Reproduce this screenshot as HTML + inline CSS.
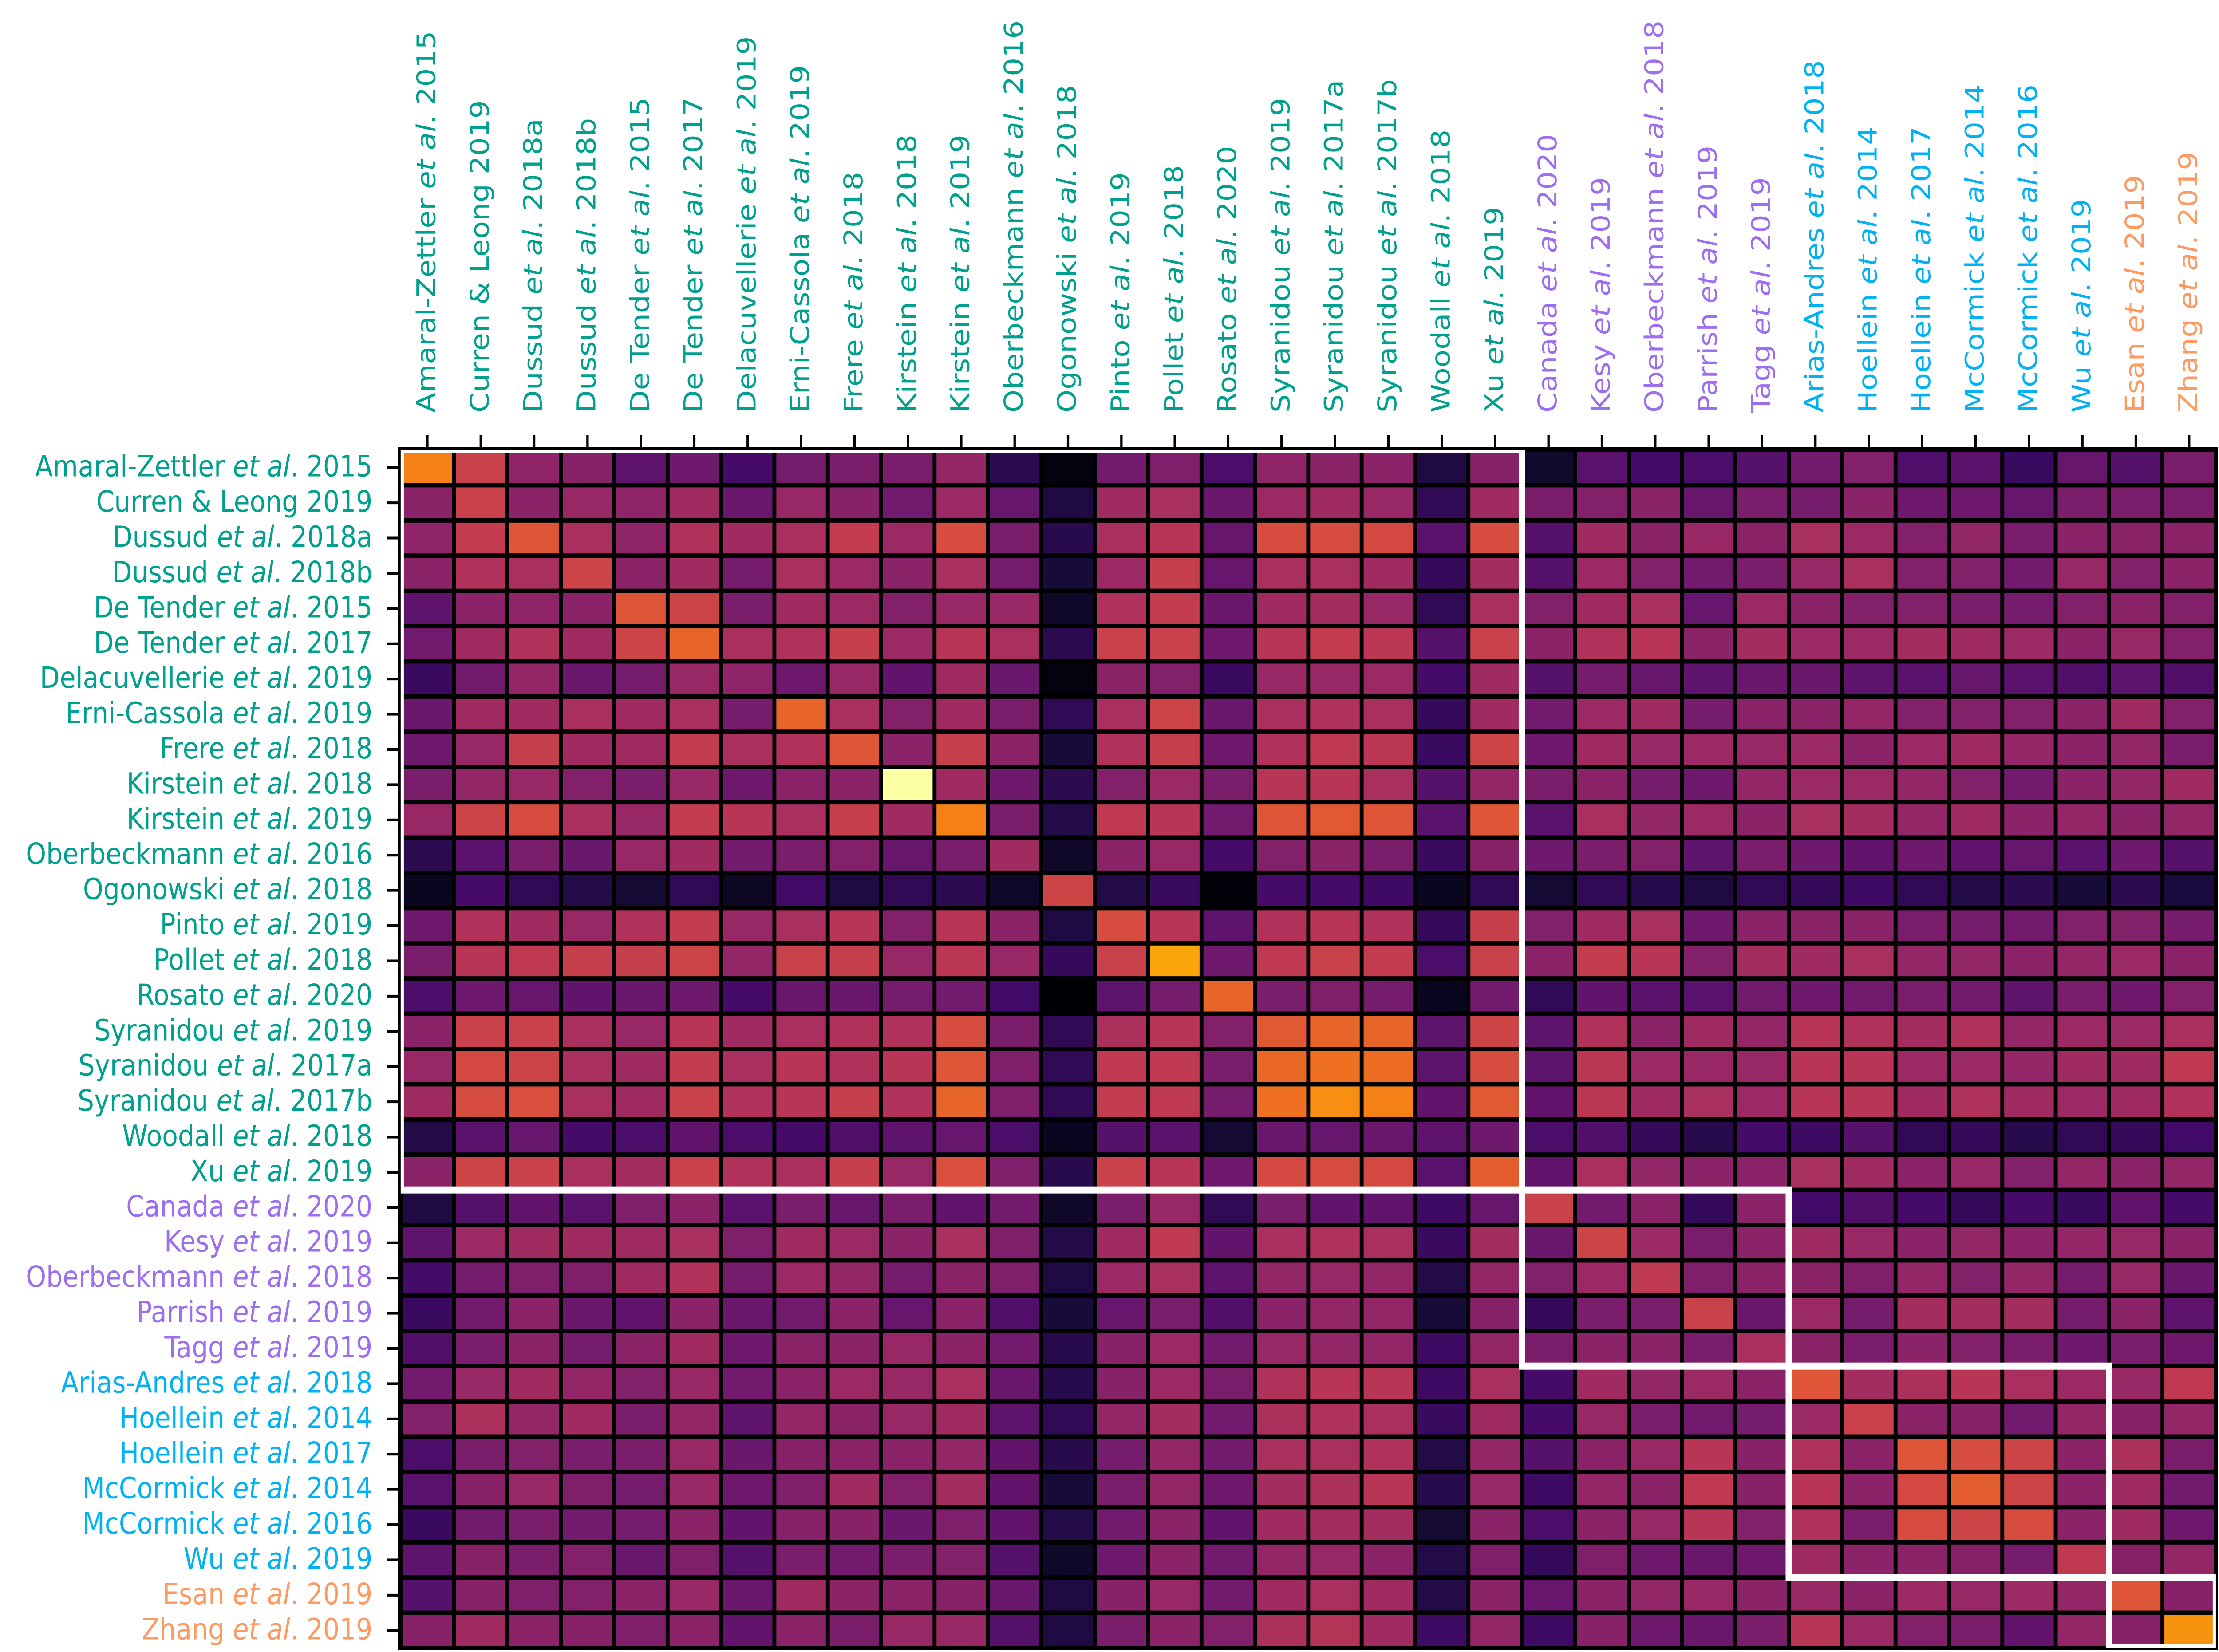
<!DOCTYPE html>
<html><head><meta charset="utf-8"><style>
html,body{margin:0;padding:0;background:#fff;width:100vw;height:100vh;overflow:hidden;}
svg{display:block;position:absolute;left:0;top:0;width:100vw;height:100vh;overflow:hidden;}
text{font-family:"DejaVu Sans","Liberation Sans",sans-serif;font-size:66px;}
</style></head><body>
<svg id="chart" xmlns="http://www.w3.org/2000/svg" viewBox="0 0 5660 3723" preserveAspectRatio="none">
<defs><clipPath id="axclip"><rect x="1022" y="1014" width="4630" height="2700"/></clipPath></defs>
<rect width="5660" height="3723" fill="#fff"/>
<g id="frame"></g>
<g id="cells"></g>
<g id="boxes"></g>
<g id="ticks"></g>
<g id="rowlabels"></g>
<g id="collabels"></g>
</svg>
<script>
const authors = ["Amaral-Zettler","Curren & Leong","Dussud","Dussud","De Tender","De Tender","Delacuvellerie","Erni-Cassola","Frere","Kirstein","Kirstein","Oberbeckmann","Ogonowski","Pinto","Pollet","Rosato","Syranidou","Syranidou","Syranidou","Woodall","Xu","Canada","Kesy","Oberbeckmann","Parrish","Tagg","Arias-Andres","Hoellein","Hoellein","McCormick","McCormick","Wu","Esan","Zhang"];
const years = ["2015","2019"," 2018a","2018b","2015","2017","2019","2019","2018","2018","2019","2016","2018","2019","2018","2020","2019","2017a","2017b","2018","2019","2020","2019","2018","2019","2019","2018","2014","2017","2014","2016","2019","2019","2019"];
const etAl = [1,0,1,1,1,1,1,1,1,1,1,1,1,1,1,1,1,1,1,1,1,1,1,1,1,1,1,1,1,1,1,1,1,1];
const groups = [0,0,0,0,0,0,0,0,0,0,0,0,0,0,0,0,0,0,0,0,0,1,1,1,1,1,2,2,2,2,2,2,3,3];
const groupColors = ["#00a08e","#9d6ef0","#00b2f4","#fc9a62"];
const groupBounds = [[0,21],[21,26],[26,32],[32,34]];
const values = [
[0.72,0.54,0.39,0.37,0.27,0.31,0.21,0.33,0.34,0.34,0.40,0.15,0.02,0.32,0.35,0.22,0.39,0.38,0.38,0.12,0.37,0.08,0.26,0.21,0.22,0.25,0.32,0.36,0.23,0.26,0.18,0.29,0.25,0.34],
[0.38,0.54,0.38,0.41,0.39,0.43,0.30,0.41,0.37,0.32,0.42,0.29,0.12,0.43,0.45,0.30,0.42,0.43,0.41,0.16,0.43,0.34,0.36,0.38,0.29,0.34,0.33,0.38,0.31,0.31,0.29,0.34,0.34,0.34],
[0.39,0.52,0.61,0.45,0.39,0.47,0.43,0.45,0.52,0.42,0.58,0.34,0.14,0.45,0.49,0.29,0.58,0.58,0.57,0.26,0.58,0.25,0.43,0.38,0.41,0.38,0.45,0.42,0.36,0.40,0.34,0.38,0.38,0.38],
[0.38,0.47,0.45,0.55,0.38,0.43,0.33,0.45,0.42,0.38,0.45,0.33,0.10,0.42,0.53,0.29,0.45,0.45,0.43,0.17,0.44,0.25,0.42,0.36,0.32,0.34,0.41,0.45,0.36,0.36,0.32,0.41,0.36,0.38],
[0.27,0.38,0.39,0.38,0.61,0.55,0.34,0.43,0.42,0.36,0.41,0.41,0.07,0.47,0.52,0.30,0.43,0.44,0.41,0.16,0.45,0.36,0.43,0.45,0.29,0.42,0.38,0.36,0.36,0.34,0.33,0.36,0.38,0.36],
[0.32,0.43,0.47,0.43,0.55,0.65,0.45,0.47,0.53,0.42,0.49,0.45,0.15,0.54,0.54,0.31,0.49,0.52,0.50,0.25,0.54,0.38,0.47,0.49,0.38,0.44,0.42,0.42,0.44,0.43,0.42,0.38,0.41,0.36],
[0.18,0.32,0.40,0.30,0.33,0.41,0.39,0.31,0.41,0.28,0.43,0.30,0.02,0.38,0.36,0.18,0.41,0.41,0.42,0.21,0.43,0.25,0.33,0.29,0.27,0.30,0.30,0.27,0.26,0.29,0.26,0.24,0.27,0.24],
[0.30,0.43,0.43,0.45,0.43,0.45,0.33,0.65,0.45,0.36,0.43,0.34,0.16,0.45,0.55,0.30,0.45,0.47,0.45,0.17,0.43,0.32,0.42,0.43,0.33,0.38,0.38,0.40,0.36,0.36,0.36,0.38,0.43,0.36],
[0.31,0.41,0.53,0.43,0.43,0.52,0.45,0.47,0.61,0.38,0.53,0.38,0.10,0.47,0.53,0.31,0.47,0.51,0.50,0.18,0.55,0.31,0.43,0.41,0.42,0.41,0.42,0.38,0.42,0.43,0.40,0.38,0.40,0.34],
[0.34,0.40,0.41,0.36,0.34,0.41,0.31,0.38,0.38,1.00,0.43,0.31,0.15,0.36,0.42,0.34,0.49,0.49,0.45,0.25,0.40,0.34,0.38,0.33,0.31,0.40,0.42,0.42,0.40,0.36,0.32,0.38,0.40,0.43],
[0.41,0.55,0.58,0.45,0.41,0.52,0.49,0.45,0.53,0.43,0.72,0.34,0.13,0.51,0.49,0.32,0.61,0.62,0.61,0.26,0.61,0.26,0.45,0.40,0.42,0.38,0.45,0.44,0.40,0.43,0.38,0.40,0.38,0.40],
[0.15,0.26,0.34,0.30,0.41,0.43,0.32,0.34,0.36,0.29,0.34,0.43,0.07,0.38,0.41,0.21,0.36,0.38,0.34,0.18,0.37,0.31,0.34,0.36,0.27,0.34,0.31,0.28,0.31,0.28,0.29,0.26,0.31,0.25],
[0.05,0.21,0.16,0.13,0.09,0.16,0.06,0.20,0.12,0.16,0.15,0.07,0.55,0.13,0.18,0.01,0.21,0.21,0.19,0.05,0.16,0.09,0.16,0.14,0.12,0.16,0.17,0.19,0.16,0.13,0.15,0.10,0.15,0.11],
[0.31,0.47,0.43,0.41,0.47,0.52,0.41,0.45,0.49,0.36,0.49,0.38,0.12,0.58,0.49,0.27,0.47,0.49,0.47,0.17,0.53,0.36,0.43,0.45,0.31,0.38,0.38,0.38,0.34,0.33,0.32,0.36,0.36,0.33],
[0.34,0.49,0.51,0.53,0.53,0.55,0.40,0.54,0.53,0.41,0.50,0.41,0.17,0.54,0.80,0.31,0.51,0.54,0.52,0.22,0.54,0.38,0.52,0.49,0.36,0.44,0.43,0.45,0.40,0.40,0.38,0.40,0.42,0.38],
[0.22,0.31,0.29,0.28,0.30,0.31,0.21,0.30,0.30,0.33,0.32,0.20,0.00,0.27,0.33,0.65,0.34,0.35,0.33,0.05,0.32,0.16,0.28,0.26,0.26,0.32,0.31,0.32,0.34,0.32,0.27,0.34,0.31,0.36],
[0.38,0.54,0.54,0.45,0.41,0.49,0.43,0.45,0.47,0.47,0.58,0.34,0.16,0.46,0.49,0.36,0.62,0.65,0.65,0.27,0.55,0.27,0.47,0.38,0.43,0.40,0.49,0.47,0.44,0.47,0.40,0.42,0.42,0.45],
[0.41,0.57,0.55,0.45,0.43,0.52,0.45,0.49,0.47,0.49,0.61,0.35,0.16,0.51,0.51,0.34,0.66,0.68,0.67,0.27,0.58,0.27,0.50,0.42,0.41,0.41,0.49,0.49,0.42,0.42,0.40,0.43,0.43,0.51],
[0.43,0.58,0.59,0.45,0.43,0.54,0.47,0.49,0.53,0.47,0.65,0.35,0.16,0.52,0.51,0.33,0.68,0.75,0.72,0.28,0.62,0.28,0.50,0.43,0.45,0.42,0.49,0.49,0.43,0.47,0.43,0.42,0.43,0.47],
[0.13,0.26,0.29,0.21,0.22,0.28,0.22,0.21,0.24,0.27,0.29,0.22,0.05,0.25,0.26,0.09,0.30,0.29,0.30,0.27,0.31,0.22,0.24,0.17,0.14,0.21,0.19,0.25,0.16,0.17,0.14,0.16,0.17,0.20],
[0.38,0.55,0.54,0.45,0.44,0.54,0.47,0.45,0.53,0.41,0.59,0.35,0.14,0.54,0.49,0.31,0.57,0.58,0.57,0.26,0.63,0.28,0.45,0.40,0.38,0.38,0.45,0.43,0.38,0.41,0.36,0.40,0.38,0.40],
[0.12,0.25,0.28,0.26,0.35,0.38,0.26,0.34,0.29,0.34,0.28,0.32,0.07,0.34,0.41,0.16,0.34,0.28,0.28,0.19,0.29,0.54,0.32,0.38,0.17,0.38,0.20,0.24,0.21,0.17,0.21,0.18,0.28,0.21],
[0.27,0.42,0.43,0.43,0.43,0.45,0.35,0.43,0.42,0.38,0.45,0.35,0.13,0.43,0.51,0.28,0.45,0.47,0.45,0.18,0.44,0.30,0.55,0.42,0.34,0.38,0.43,0.41,0.38,0.40,0.38,0.40,0.41,0.38],
[0.21,0.33,0.35,0.35,0.43,0.47,0.33,0.42,0.40,0.33,0.38,0.35,0.12,0.42,0.45,0.27,0.40,0.41,0.40,0.13,0.40,0.36,0.42,0.51,0.35,0.38,0.38,0.35,0.40,0.36,0.40,0.33,0.41,0.30],
[0.18,0.32,0.38,0.30,0.28,0.38,0.30,0.32,0.38,0.29,0.38,0.24,0.10,0.29,0.34,0.24,0.38,0.40,0.40,0.10,0.37,0.17,0.34,0.34,0.54,0.30,0.42,0.33,0.44,0.44,0.44,0.33,0.38,0.27],
[0.24,0.34,0.38,0.33,0.38,0.43,0.31,0.38,0.38,0.41,0.38,0.32,0.14,0.37,0.42,0.32,0.41,0.40,0.40,0.19,0.40,0.34,0.38,0.38,0.34,0.45,0.38,0.34,0.38,0.36,0.34,0.31,0.34,0.31],
[0.32,0.41,0.43,0.40,0.36,0.41,0.32,0.38,0.42,0.41,0.45,0.30,0.14,0.37,0.42,0.34,0.47,0.49,0.49,0.19,0.45,0.21,0.43,0.40,0.42,0.38,0.61,0.44,0.46,0.49,0.45,0.42,0.41,0.51],
[0.36,0.46,0.40,0.43,0.34,0.40,0.27,0.40,0.38,0.41,0.43,0.27,0.16,0.40,0.44,0.32,0.46,0.47,0.45,0.18,0.43,0.21,0.41,0.34,0.32,0.33,0.42,0.54,0.38,0.37,0.32,0.40,0.37,0.40],
[0.22,0.34,0.36,0.34,0.34,0.41,0.30,0.37,0.38,0.38,0.40,0.28,0.14,0.33,0.40,0.32,0.45,0.45,0.47,0.13,0.40,0.25,0.38,0.41,0.49,0.37,0.47,0.38,0.61,0.58,0.55,0.38,0.46,0.34],
[0.26,0.37,0.41,0.35,0.33,0.41,0.31,0.35,0.43,0.36,0.44,0.28,0.10,0.34,0.40,0.31,0.44,0.46,0.49,0.14,0.41,0.19,0.40,0.38,0.51,0.37,0.49,0.38,0.57,0.63,0.55,0.38,0.43,0.32],
[0.18,0.32,0.34,0.32,0.33,0.38,0.28,0.37,0.37,0.30,0.35,0.28,0.13,0.32,0.38,0.28,0.43,0.44,0.44,0.09,0.38,0.22,0.38,0.41,0.49,0.36,0.47,0.34,0.58,0.55,0.58,0.38,0.43,0.31],
[0.27,0.37,0.34,0.36,0.30,0.35,0.25,0.34,0.32,0.34,0.36,0.25,0.07,0.31,0.38,0.32,0.40,0.41,0.38,0.13,0.35,0.17,0.35,0.31,0.30,0.31,0.43,0.38,0.38,0.37,0.33,0.51,0.37,0.40],
[0.25,0.37,0.35,0.36,0.38,0.41,0.30,0.43,0.38,0.38,0.37,0.30,0.12,0.37,0.41,0.32,0.43,0.45,0.43,0.13,0.38,0.29,0.38,0.40,0.41,0.38,0.41,0.38,0.42,0.41,0.42,0.40,0.61,0.37],
[0.37,0.43,0.38,0.37,0.35,0.38,0.28,0.38,0.34,0.41,0.41,0.25,0.12,0.34,0.38,0.36,0.46,0.48,0.43,0.19,0.40,0.19,0.37,0.31,0.30,0.34,0.49,0.42,0.36,0.34,0.28,0.40,0.37,0.76]
];

const NS = "http://www.w3.org/2000/svg";
const stops = ["#000004","#160b39","#420a68","#6a176e","#932667","#bc3754","#dd513a","#f37819","#fca50a","#f6d746","#fcffa4"];
function hex(c){return [parseInt(c.slice(1,3),16),parseInt(c.slice(3,5),16),parseInt(c.slice(5,7),16)];}
function inferno(v){
  v=Math.max(0,Math.min(1,v));
  const p=v*10, i=Math.min(9,Math.floor(p)), t=p-i;
  const a=hex(stops[i]), b=hex(stops[i+1]);
  return "rgb("+a.map((x,k)=>Math.round(x+(b[k]-x)*t)).join(",")+")";
}
const L=1022, R=5652, T=1014, B=3714;
const N=authors.length;
const cw=(R-L)/N, rh=(B-T)/N;
function xScale(i){return L+i*cw;}
function yScale(i){return T+i*rh;}
function mk(tag,attrs,parent){const e=document.createElementNS(NS,tag);for(const k in attrs)e.setAttribute(k,attrs[k]);parent.appendChild(e);return e;}

const frame=document.getElementById("frame");
const bg=mk("rect",{x:L-7,y:T-7,width:R-L+12,height:B-T+12,fill:"#000"},frame);



const cells=document.getElementById("cells");
const g=5;
for(let r=0;r<N;r++){for(let c=0;c<N;c++){
  const e=mk("rect",{x:xScale(c)+g,y:yScale(r)+g,width:cw-2*g,height:rh-2*g,fill:inferno(values[r][c])},cells);
  
  
}}

const boxes=document.getElementById("boxes");
groupBounds.forEach(([a,b])=>{
  const e=mk("rect",{x:xScale(a),y:yScale(a),width:xScale(b)-xScale(a),height:yScale(b)-yScale(a),fill:"none",stroke:"#fff","stroke-width":16,"clip-path":"url(#axclip)"},boxes);
  
  
});

const ticks=document.getElementById("ticks");
for(let i=0;i<N;i++){
  const cx=xScale(i)+cw/2, cy=yScale(i)+rh/2;
  const t1=mk("rect",{x:cx-3,y:T-34,width:6,height:28,fill:"#000"},ticks);
  
  
  const t2=mk("rect",{x:L-34,y:cy-3,width:28,height:6,fill:"#000"},ticks);
  
  
}

function fillLabel(t,i){
  t.setAttribute("xml:space","preserve");
  const a=document.createElementNS(NS,"tspan");a.textContent=authors[i]+" ";t.appendChild(a);
  if(etAl[i]){
    const it=document.createElementNS(NS,"tspan");it.setAttribute("font-style","italic");it.textContent="et al";t.appendChild(it);
    const d=document.createElementNS(NS,"tspan");d.textContent=". "+years[i];t.appendChild(d);
  } else {
    const d=document.createElementNS(NS,"tspan");d.textContent=years[i].trim();t.appendChild(d);
  }
}
const rl=document.getElementById("rowlabels");
const cl=document.getElementById("collabels");
for(let i=0;i<N;i++){
  const cy=yScale(i)+rh/2;
  const t=mk("text",{x:950,y:cy+20,"text-anchor":"end",fill:groupColors[groups[i]]},rl);
  fillLabel(t,i);
  
  
  const cx=xScale(i)+cw/2;
  const u=mk("text",{x:0,y:0,"text-anchor":"start",fill:groupColors[groups[i]],transform:"translate("+(cx+20)+",930) rotate(-90)"},cl);
  fillLabel(u,i);
  
  
}
</script>
</body></html>
